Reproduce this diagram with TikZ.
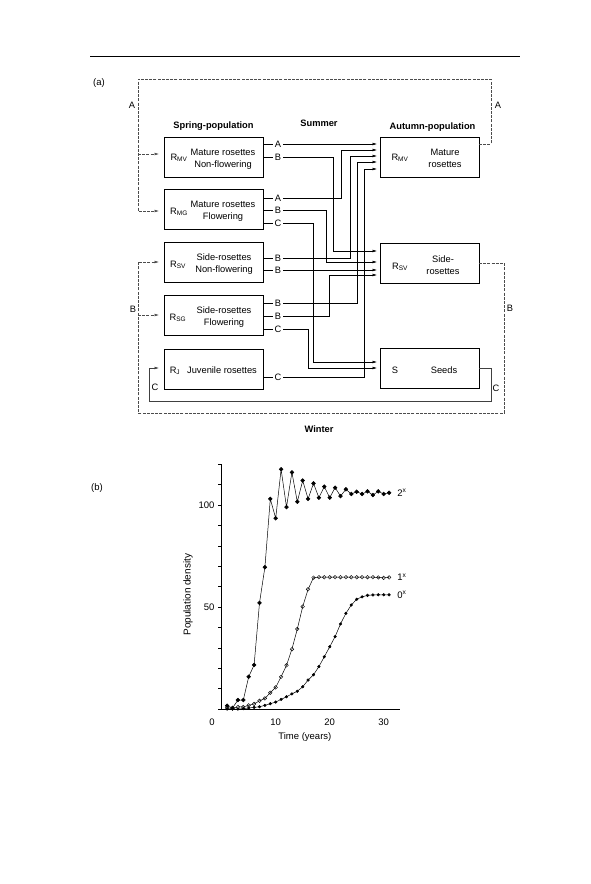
\documentclass[tikz,border=0pt]{standalone}
\usepackage{fontspec}
\setmainfont{Liberation Sans}
\usetikzlibrary{arrows.meta,plotmarks}
\begin{document}
\begin{tikzpicture}[x=1pt,y=-1pt,
  box/.style={draw, line width=0.6pt, minimum width=99pt, minimum height=40pt, inner sep=0pt},
  txt/.style={font=\fontsize{9.3}{12}\selectfont, inner sep=0.5pt, align=center},
  hd/.style={font=\fontsize{9.3}{11}\selectfont\bfseries, inner sep=0.5pt},
  lbl/.style={font=\fontsize{9.3}{10}\selectfont, inner sep=1.8pt},
  ctxt/.style={font=\fontsize{9.5}{11}\selectfont, inner sep=0.5pt},
  tip/.style={-{Latex[length=4.5pt,width=2.8pt]}},
  conn/.style={line width=0.5pt, tip},
  stub/.style={line width=0.5pt},
  fb/.style={line width=0.55pt, draw=black!70, dash pattern=on 3pt off 1.2pt},
  fbs/.style={line width=0.55pt, draw=black!75},
]
\useasboundingbox (0,0) rectangle (590,884);

% top rule
\coordinate (ruleL) at (90,56);
\coordinate (ruleR) at (520,56);
\draw[line width=0.8pt] (ruleL) -- (ruleR);

\node[ctxt] (labA) at (99,83) {(a)};

% headings
\node[hd] (hSpring) at (213.5,126) {Spring-population};
\node[hd] (hSummer) at (319,123) {Summer};
\node[hd] (hAutumn) at (432.5,127) {Autumn-population};
\node[hd] (hWinter) at (319,429) {Winter};

% spring boxes
\node[box] (smv) at (213.5,157) {};
\node[txt] (smvR) at (179,158) {R\textsubscript{MV}};
\node[txt] (smvT) at (223,159) {Mature rosettes\\Non-flowering};

\node[box] (smg) at (213.5,209.5) {};
\node[txt] (smgR) at (179,212) {R\textsubscript{MG}};
\node[txt] (smgT) at (223,211) {Mature rosettes\\Flowering};

\node[box] (ssv) at (213.5,262.5) {};
\node[txt] (ssvR) at (178,265) {R\textsubscript{SV}};
\node[txt] (ssvT) at (224,264) {Side-rosettes\\Non-flowering};

\node[box] (ssg) at (213.5,315.5) {};
\node[txt] (ssgR) at (178,318) {R\textsubscript{SG}};
\node[txt] (ssgT) at (224,317) {Side-rosettes\\Flowering};

\node[box] (sj) at (213.5,369) {};
\node[txt] (sjR) at (175,371) {R\textsubscript{J}};
\node[txt] (sjT) at (222,370) {Juvenile rosettes};

% autumn boxes
\node[box] (amv) at (429.5,157.5) {};
\node[txt] (amvR) at (400,158) {R\textsubscript{MV}};
\node[txt] (amvT) at (445,158) {Mature\\rosettes};

\node[box] (asv) at (429.5,263.5) {};
\node[txt] (asvR) at (400,267) {R\textsubscript{SV}};
\node[txt] (asvT) at (443,265.5) {Side-\\rosettes};

\node[box] (sds) at (429.5,368.5) {};
\node[txt] (sdsR) at (395,370) {S};
\node[txt] (sdsT) at (444,370) {Seeds};

% output letters
\node[lbl] (oA1) at (278,144) {A};
\node[lbl] (oB1) at (278,157) {B};
\node[lbl] (oA2) at (278,198) {A};
\node[lbl] (oB2) at (278,210) {B};
\node[lbl] (oC2) at (278,223) {C};
\node[lbl] (oB3) at (278,258) {B};
\node[lbl] (oB4) at (278,270) {B};
\node[lbl] (oB5) at (278,303) {B};
\node[lbl] (oB6) at (278,316) {B};
\node[lbl] (oC3) at (278,329) {C};
\node[lbl] (oC4) at (278,377) {C};

% stubs
\foreach \n/\b in {oA1/smv,oB1/smv,oA2/smg,oB2/smg,oC2/smg,oB3/ssv,oB4/ssv,oB5/ssg,oB6/ssg,oC3/ssg,oC4/sj}
  \draw[stub] (\b.east |- \n) -- (\n.west);

% arrow end points
\coordinate (aM1) at (377,144);
\coordinate (aM2) at (377,150);
\coordinate (aM3) at (377,156);
\coordinate (aM4) at (377,162);
\coordinate (aM5) at (377,169);
\coordinate (aS1) at (377,251);
\coordinate (aS2) at (377,262);
\coordinate (aS3) at (377,270);
\coordinate (aS4) at (377,275);
\coordinate (aD1) at (377,362);
\coordinate (aD2) at (377,368);

% summer connectors
\draw[conn] (oA1.east) -- (aM1);
\draw[conn] (oB1.east) -- (333,157) |- (aS1);
\draw[conn] (oA2.east) -- (341,198) |- (aM2);
\draw[conn] (oB2.east) -- (326,210) |- (aS2);
\draw[conn] (oC2.east) -- (313,223) |- (aD1);
\draw[conn] (oB3.east) -- (350,258) |- (aM3);
\draw[conn] (oB4.east) -- (aS3);
\draw[conn] (oB5.east) -- (357,303) |- (aM4);
\draw[conn] (oB6.east) -- (329,316) |- (aS4);
\draw[conn] (oC3.east) -- (308,329) |- (aD2);
\draw[conn] (oC4.east) -- (364,377) |- (aM5);

% winter feedback loops
\coordinate (amvOut) at (479,144);
\coordinate (asvOut) at (479,263);
\coordinate (sdsOut) at (479,368);
\coordinate (smvIn) at (159,154);
\coordinate (smgIn) at (159,211);
\coordinate (ssvIn) at (159,262);
\coordinate (ssgIn) at (159,315);
\coordinate (sjIn) at (159,368);

\draw[fb, tip] (amvOut) -- (491,144) -- (491,79) -- (138,79) -- (138,211) -- (smgIn);
\draw[fb, tip] (138,154) -- (smvIn);
\draw[fb, tip] (asvOut) -- (504,263) -- (504,413) -- (138,413) -- (138,262) -- (ssvIn);
\draw[fb, tip] (138,315) -- (ssgIn);
\draw[fbs, tip] (sdsOut) -- (491,368) -- (491,401) -- (149,401) -- (149,368) -- (sjIn);

\node[lbl] (fA1) at (132,105) {A};
\node[lbl] (fA2) at (498,105) {A};
\node[lbl] (fB1) at (133,309) {B};
\node[lbl] (fB2) at (510,308) {B};
\node[lbl] (fC1) at (155,387) {C};
\node[lbl] (fC2) at (496,388) {C};

% ---------------- (b) chart
\node[ctxt] (labB) at (97,488) {(b)};

\begin{scope}[shift={(221.7,709)}, x=5.4pt, y=2.04pt]
  \draw[line width=0.55pt] (0,120) -- (0,0) -- (33,0);
  \foreach \t in {0,10,...,120} \draw[line width=0.5pt] (0,\t) -- (-0.75,\t);
  \node[ctxt, anchor=east] (y100) at (-1.2,100) {100};
  \node[ctxt, anchor=east] (y50) at (-1.2,50) {50};
  \node[ctxt] (x0) at (-1.8,-6.4) {0};
  \node[ctxt] (x10) at (10,-6.4) {10};
  \node[ctxt] (x20) at (20,-6.4) {20};
  \node[ctxt] (x30) at (30,-6.4) {30};
  \node[ctxt, rotate=90, font=\fontsize{10}{11}\selectfont] (ylab) at (-6.24,56) {Population density};
  \node[ctxt] (xlab) at (15.4,-13.7) {Time (years)};

  \draw[line width=0.5pt, mark=*, mark size=1.9pt] plot coordinates {
    (1,1.6)(2,0.5)(3,4.4)(4,4.4)(5,15.8)(6,21.6)(7,52)(8,69.5)(9,103)(10,93.5)
    (11,117.5)(12,99)(13,116)(14,101.6)(15,112)(16,103)(17,110.6)(18,103.6)(19,109)(20,103.6)
    (21,108.5)(22,104.4)(23,107.7)(24,105.4)(25,106.5)(26,105.4)(27,106.7)(28,104.9)(29,106.7)(30,105.4)(31,106)};
  \draw[line width=0.5pt, mark=o, mark size=1.8pt, mark options={fill=white, line width=0.45pt}] plot coordinates {
    (1,0.6)(2,0.3)(3,1)(4,1)(5,1.8)(6,2.5)(7,4)(8,5.2)(9,8)(10,10.6)
    (11,15.8)(12,21.4)(13,29.3)(14,39.2)(15,50.2)(16,58.7)(17,64.4)(18,64.6)(19,64.6)(20,64.6)
    (21,64.6)(22,64.6)(23,64.6)(24,64.6)(25,64.6)(26,64.6)(27,64.6)(28,64.6)(29,64.5)(30,64.3)(31,64.5)};
  \draw[line width=0.5pt, mark=*, mark size=1.3pt] plot coordinates {
    (1,0)(2,0)(3,0)(4,0.2)(5,0.5)(6,0.8)(7,1.1)(8,1.8)(9,2.6)(10,3.4)
    (11,4.7)(12,6)(13,7.4)(14,8.7)(15,10.9)(16,14.2)(17,16.8)(18,20.8)(19,25.6)(20,30.5)
    (21,35.5)(22,41.7)(23,46.9)(24,51)(25,53.8)(26,55)(27,55.7)(28,55.9)(29,56)(30,56)(31,56)};

  \node[ctxt, anchor=west] (l2) at (32.4,106) {2\textsuperscript{x}};
  \node[ctxt, anchor=west] (l1) at (32.4,64.6) {1\textsuperscript{x}};
  \node[ctxt, anchor=west] (l0) at (32.4,56) {0\textsuperscript{x}};
\end{scope}
\end{tikzpicture}
\end{document}
